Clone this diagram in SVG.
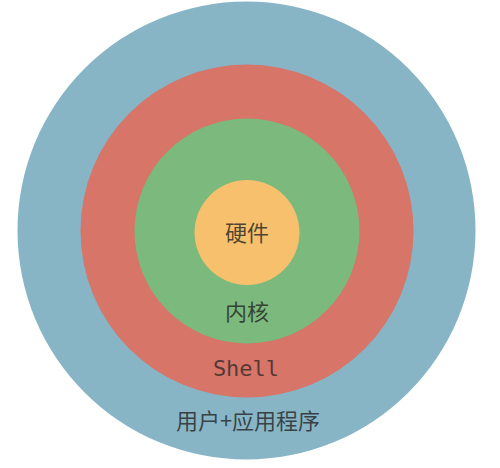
<svg xmlns="http://www.w3.org/2000/svg" width="500" height="468" viewBox="0 0 500 468">
<style>
.lbl{font-family:"Noto Sans CJK SC","DejaVu Sans",sans-serif;font-size:22px;fill:#222;fill-opacity:0.78;text-anchor:middle}
.mono{font-family:"DejaVu Sans Mono","Liberation Mono",monospace;font-size:22px;fill:#222;fill-opacity:0.72;text-anchor:middle}
</style>
<rect width="500" height="468" fill="#ffffff"/>
<g id="apps">
<circle cx="246.5" cy="230.5" r="229" fill="#87b5c6"/>
<text class="lbl" x="248" y="429">用户+应用程序</text>
</g>
<g id="shell">
<circle cx="247" cy="231" r="166.5" fill="#d67568"/>
<text class="mono" x="246" y="376">Shell</text>
</g>
<g id="kernel">
<circle cx="247" cy="231" r="112.5" fill="#7cb97c"/>
<text class="lbl" x="247" y="320">内核</text>
</g>
<g id="hardware">
<circle cx="247" cy="232.5" r="52.5" fill="#f6c06d"/>
<text class="lbl" x="247" y="241">硬件</text>
</g>
</svg>
